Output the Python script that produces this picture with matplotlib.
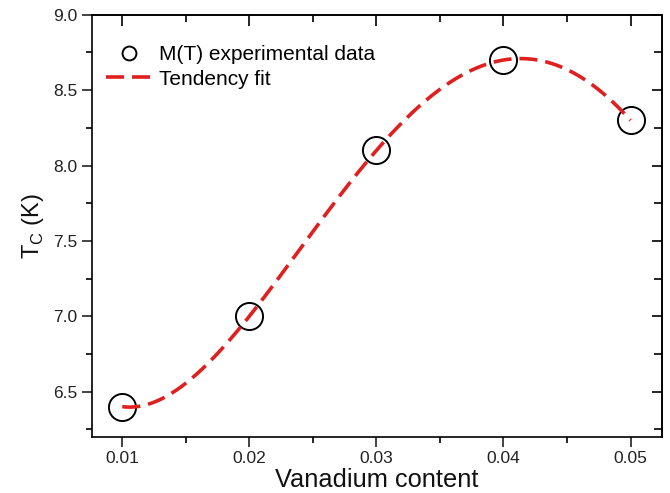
import numpy as np
import matplotlib.pyplot as plt
from matplotlib.ticker import MultipleLocator

plt.rcParams['font.family'] = ['Liberation Sans', 'DejaVu Sans']

# Tc vs vanadium content
vanadio = [0.01, 0.02, 0.03, 0.04, 0.05]
tc = [6.4, 7.0, 8.1, 8.7, 8.3]

# tendency fit (polynomial through the measured points)
coef = np.polyfit(vanadio, tc, 4)
x_fit = np.linspace(vanadio[0], vanadio[-1], 300)
y_fit = np.polyval(coef, x_fit)

fig = plt.figure(figsize=(6.7, 4.93), dpi=100)
ax = fig.add_axes([0.137, 0.114, 0.8515, 0.856])

ax.plot(vanadio, tc, linestyle='none', marker='o', markersize=19.5,
        markerfacecolor='none', markeredgecolor='black', markeredgewidth=1.4,
        label='M(T) experimental data')
ax.plot(x_fit, y_fit, color='#e0201f', linewidth=2.6, dashes=(5, 2.2),
        label='Tendency fit')

ax.set_xlim(0.0076, 0.0525)
ax.set_ylim(6.2, 9.0)
ax.xaxis.set_major_locator(MultipleLocator(0.01))
ax.xaxis.set_minor_locator(MultipleLocator(0.005))
ax.yaxis.set_major_locator(MultipleLocator(0.5))
ax.yaxis.set_minor_locator(MultipleLocator(0.25))
ax.xaxis.set_major_formatter(plt.FuncFormatter(lambda v, p: f'{v:.2f}'))
ax.yaxis.set_major_formatter(plt.FuncFormatter(lambda v, p: f'{v:.1f}'))

ax.tick_params(which='major', direction='out', length=7, width=1.2,
               labelsize=12.5, colors='#222222')
ax.tick_params(which='minor', direction='out', length=4, width=1.2)

# ticks pointing inwards on top and right
top = ax.secondary_xaxis('top')
top.xaxis.set_major_locator(MultipleLocator(0.01))
top.xaxis.set_minor_locator(MultipleLocator(0.005))
top.tick_params(which='major', direction='in', length=8, width=1.2, labeltop=False)
top.tick_params(which='minor', direction='in', length=5, width=1.2)
right = ax.secondary_yaxis('right')
right.yaxis.set_major_locator(MultipleLocator(0.5))
right.yaxis.set_minor_locator(MultipleLocator(0.25))
right.tick_params(which='major', direction='in', length=7, width=1.2, labelright=False)
right.tick_params(which='minor', direction='in', length=6, width=1.2)

for s in ax.spines.values():
    s.set_linewidth(1.2)
top.spines['top'].set_linewidth(1.2)
right.spines['right'].set_linewidth(1.2)

ax.set_xlabel('Vanadium content', fontsize=18.3, labelpad=1, color='#111111')
ax.set_ylabel(r'T$_\mathregular{C}$ (K)', fontsize=17, labelpad=5, color='#111111')

leg = ax.legend(loc='upper left', frameon=False, fontsize=15,
                bbox_to_anchor=(0.0, 0.962), handlelength=2.16,
                handletextpad=0.38, labelspacing=0.25, borderaxespad=0.3)
leg.legend_handles[0].set_markersize(10)

fig.savefig('out.png', dpi=100)
